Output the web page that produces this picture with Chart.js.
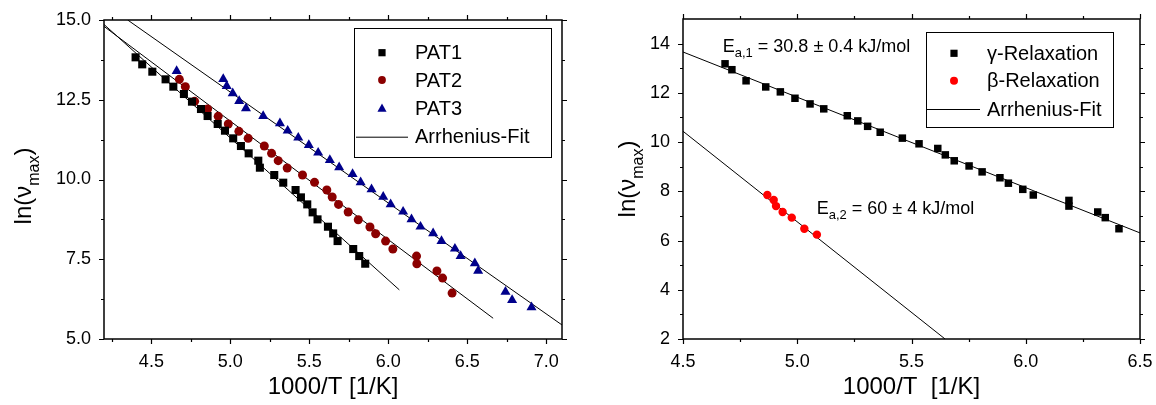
<!DOCTYPE html>
<html>
<head>
<meta charset="utf-8">
<script src="https://cdn.jsdelivr.net/npm/chart.js@4/dist/chart.umd.min.js"></script>
<style>
  html, body { margin: 0; padding: 0; background: #fff; overflow: hidden; }
  #wrap { position: relative; width: 1156px; height: 405px; }
  .pane { position: absolute; top: 0; width: 578px; height: 405px; }
</style>
</head>
<body>
<div id="wrap">
  <div class="pane" style="left:0"><canvas id="left" width="578" height="405"></canvas></div>
  <div class="pane" style="left:578px"><canvas id="right" width="578" height="405"></canvas></div>
</div>
<script>
// ---- Left panel: relaxation rate maps of three samples ----
const pat1X = [4.400, 4.442, 4.506, 4.590, 4.639, 4.706, 4.757, 4.814, 4.856, 4.920, 4.966, 5.018, 5.067, 5.116, 5.177, 5.187, 5.278, 5.335, 5.413, 5.447, 5.487, 5.521, 5.552, 5.618, 5.651, 5.679, 5.778, 5.816, 5.854];
const pat1Y = [13.83, 13.61, 13.38, 13.14, 12.91, 12.68, 12.44, 12.21, 11.99, 11.74, 11.53, 11.29, 11.05, 10.82, 10.59, 10.37, 10.14, 9.90, 9.67, 9.44, 9.22, 8.97, 8.75, 8.52, 8.31, 8.07, 7.82, 7.60, 7.36];

const pat2X = [4.677, 4.715, 4.774, 4.856, 4.923, 4.987, 5.054, 5.113, 5.215, 5.261, 5.303, 5.360, 5.457, 5.533, 5.611, 5.645, 5.685, 5.746, 5.810, 5.884, 5.920, 5.983, 6.029, 6.179, 6.181, 6.308, 6.344, 6.404];
const pat2Y = [13.14, 12.91, 12.45, 12.21, 11.98, 11.74, 11.51, 11.29, 11.05, 10.82, 10.59, 10.36, 10.14, 9.91, 9.67, 9.45, 9.22, 8.98, 8.74, 8.51, 8.30, 8.07, 7.82, 7.60, 7.36, 7.13, 6.91, 6.44];

const pat3X = [4.660, 4.955, 4.977, 5.015, 5.056, 5.099, 5.208, 5.314, 5.363, 5.430, 5.497, 5.556, 5.630, 5.689, 5.774, 5.825, 5.894, 5.968, 6.015, 6.094, 6.147, 6.204, 6.284, 6.337, 6.422, 6.458, 6.548, 6.569, 6.742, 6.784, 6.907];
const pat3Y = [13.40, 13.15, 12.93, 12.70, 12.46, 12.23, 11.99, 11.76, 11.53, 11.31, 11.08, 10.84, 10.61, 10.38, 10.17, 9.91, 9.69, 9.46, 9.22, 8.99, 8.75, 8.52, 8.31, 8.07, 7.83, 7.60, 7.37, 7.14, 6.48, 6.22, 5.99];

// Arrhenius fit lines, end points [1000/T, ln(nu)]
const pat1FitX = [4.20, 6.07];
const pat1FitY = [14.86, 6.54];
const pat2FitX = [4.20, 6.664];
const pat2FitY = [14.80, 5.65];
const pat3FitX = [4.35, 7.10];
const pat3FitY = [15.00, 5.44];

const leftXTicks = [4.5, 5.0, 5.5, 6.0, 6.5, 7.0];
const leftXMinor = [4.25, 4.75, 5.25, 5.75, 6.25, 6.75];
const leftYTicks = [5.0, 7.5, 10.0, 12.5, 15.0];
const leftYMinor = [6.25, 8.75, 11.25, 13.75];

// ---- Right panel: gamma and beta relaxation ----
const gammaX = [4.684, 4.714, 4.776, 4.862, 4.926, 4.990, 5.056, 5.116, 5.219, 5.265, 5.308, 5.363, 5.460, 5.533, 5.615, 5.648, 5.687, 5.752, 5.809, 5.887, 5.924, 5.987, 6.033, 6.189, 6.189, 6.315, 6.348, 6.408];
const gammaY = [13.18, 12.94, 12.49, 12.24, 12.04, 11.78, 11.55, 11.35, 11.07, 10.86, 10.64, 10.40, 10.16, 9.93, 9.74, 9.48, 9.24, 9.03, 8.79, 8.55, 8.33, 8.08, 7.85, 7.63, 7.40, 7.16, 6.93, 6.48];

const betaX = [4.869, 4.897, 4.907, 4.936, 4.976, 5.031, 5.086];
const betaY = [7.85, 7.65, 7.40, 7.16, 6.93, 6.48, 6.24];

const gammaFitX = [4.50, 6.50];
const gammaFitY = [13.66, 6.31];
const betaFitX = [4.50, 5.647];
const betaFitY = [10.44, 2.00];

const rightXTicks = [4.5, 5.0, 5.5, 6.0, 6.5];
const rightXMinor = [4.75, 5.25, 5.75, 6.25];
const rightYTicks = [2, 4, 6, 8, 10, 12, 14];
const rightYMinor = [3, 5, 7, 9, 11, 13];

const FONT = '"Liberation Sans", Arial, Helvetica, sans-serif';
const pts = (xs, ys) => xs.map((x, i) => ({ x, y: ys[i] }));

function markerDataset(label, xs, ys, style, radius, color) {
  return {
    label, data: pts(xs, ys), showLine: false,
    pointStyle: style, pointRadius: radius, pointBorderWidth: 0,
    pointBackgroundColor: color, pointBorderColor: color
  };
}
function fitDataset(xs, ys) {
  return {
    label: 'Arrhenius-Fit', data: pts(xs, ys), showLine: true,
    borderColor: '#000', borderWidth: 1, pointRadius: 0, fill: false
  };
}

// draws one legend marker
function drawMarker(ctx, style, x, y, r, color) {
  ctx.save();
  ctx.fillStyle = color;
  ctx.beginPath();
  if (style === 'rect') {
    ctx.rect(x - r, y - r, 2 * r, 2 * r);
  } else if (style === 'circle') {
    ctx.arc(x, y, r, 0, Math.PI * 2);
  } else if (style === 'triangle') {
    ctx.moveTo(x, y - r);
    ctx.lineTo(x + r * 0.95, y + r * 0.7);
    ctx.lineTo(x - r * 0.95, y + r * 0.7);
    ctx.closePath();
  }
  ctx.fill();
  ctx.restore();
}

// text with a subscript part: [main, sub, rest]
function drawSubText(ctx, parts, x, y, size, subSize, subDrop, align) {
  ctx.save();
  ctx.textBaseline = 'alphabetic';
  ctx.textAlign = 'left';
  const mainFont = size + 'px ' + FONT;
  const subFont = subSize + 'px ' + FONT;
  ctx.font = mainFont; const w0 = ctx.measureText(parts[0]).width;
  ctx.font = subFont; const w1 = ctx.measureText(parts[1]).width;
  ctx.font = mainFont; const w2 = ctx.measureText(parts[2]).width;
  let sx = x;
  if (align === 'center') sx = x - (w0 + w1 + w2) / 2;
  ctx.font = mainFont; ctx.fillText(parts[0], sx, y);
  ctx.font = subFont; ctx.fillText(parts[1], sx + w0, y + subDrop);
  ctx.font = mainFont; ctx.fillText(parts[2], sx + w0 + w1, y);
  ctx.restore();
}

// frame, mirrored outward ticks, axis titles, legend box and annotations
const framePlugin = {
  id: 'frame',
  afterDraw(chart, args, o) {
    const ctx = chart.ctx;
    const a = chart.chartArea;
    const sx = chart.scales.x, sy = chart.scales.y;
    ctx.save();
    ctx.strokeStyle = '#000';
    ctx.lineWidth = 1.5;
    ctx.strokeRect(a.left, a.top, a.right - a.left, a.bottom - a.top);
    ctx.lineWidth = 1.2;
    ctx.beginPath();
    const tickX = (vals, len) => vals.forEach(v => {
      const p = Math.round(sx.getPixelForValue(v)) + 0.5;
      ctx.moveTo(p, a.bottom); ctx.lineTo(p, a.bottom + len);
      ctx.moveTo(p, a.top); ctx.lineTo(p, a.top - len);
    });
    const tickY = (vals, len) => vals.forEach(v => {
      const p = Math.round(sy.getPixelForValue(v)) + 0.5;
      ctx.moveTo(a.left, p); ctx.lineTo(a.left - len, p);
      ctx.moveTo(a.right, p); ctx.lineTo(a.right + len, p);
    });
    tickX(o.xMajor, 5); tickX(o.xMinor, 3);
    tickY(o.yMajor, 5); tickY(o.yMinor, 3);
    ctx.stroke();

    // axis titles
    ctx.fillStyle = '#000';
    ctx.font = '24px ' + FONT;
    ctx.textAlign = 'center';
    ctx.textBaseline = 'alphabetic';
    ctx.fillText(o.xTitle, (a.left + a.right) / 2, o.xTitleY);
    ctx.save();
    ctx.translate(o.yTitleX, o.yTitleCY);
    ctx.rotate(-Math.PI / 2);
    drawSubText(ctx, ['ln(\u03BD', 'max', ')'], 0, 0, 24, 16, 8, 'center');
    ctx.restore();

    // legend
    const L = o.legend;
    ctx.lineWidth = 1;
    ctx.strokeStyle = '#000';
    ctx.strokeRect(L.x0 + 0.5, L.y0 + 0.5, L.x1 - L.x0, L.y1 - L.y0);
    ctx.font = '20px ' + FONT;
    ctx.textAlign = 'left';
    ctx.textBaseline = 'middle';
    L.items.forEach((it, i) => {
      const y = L.rowY[i];
      if (it.style === 'line') {
        ctx.beginPath();
        ctx.moveTo(L.lineX0, y + 0.5); ctx.lineTo(L.lineX1, y + 0.5);
        ctx.stroke();
      } else {
        drawMarker(ctx, it.style, L.markX, y, it.r, it.color);
      }
      ctx.fillStyle = '#000';
      ctx.fillText(it.text, L.textX, y + 1);
    });

    // activation energy notes, placed in data coordinates
    (o.notes || []).forEach(n => {
      ctx.fillStyle = '#000';
      drawSubText(ctx, n.parts, sx.getPixelForValue(n.x), sy.getPixelForValue(n.y), 18, 13, 5, 'left');
    });
    ctx.restore();
  }
};

function makeChart(id, c) {
  return new Chart(document.getElementById(id), {
    type: 'scatter',
    data: { datasets: c.datasets },
    options: {
      responsive: false,
      animation: false,
      events: [],
      layout: { padding: { left: 0, right: c.padRight, top: c.padTop, bottom: 0 } },
      plugins: { legend: { display: false }, tooltip: { enabled: false }, frame: c.frame },
      scales: {
        x: {
          type: 'linear', min: c.xMin, max: c.xMax,
          grid: { display: false, drawTicks: false },
          border: { display: false },
          ticks: { color: '#000', font: { family: FONT, size: 18 }, padding: 12,
                   callback: v => v.toFixed(1) },
          afterBuildTicks: s => { s.ticks = c.frame.xMajor.map(v => ({ value: v })); },
          afterFit: s => { s.height = c.xHeight; s.paddingLeft = 0; s.paddingRight = 0; }
        },
        y: {
          type: 'linear', min: c.yMin, max: c.yMax,
          grid: { display: false, drawTicks: false },
          border: { display: false },
          ticks: { color: '#000', font: { family: FONT, size: 18 }, padding: 13,
                   callback: c.yFormat },
          afterBuildTicks: s => { s.ticks = c.frame.yMajor.map(v => ({ value: v })); },
          afterFit: s => { s.width = c.yWidth; s.paddingTop = 0; s.paddingBottom = 0; }
        }
      }
    },
    plugins: [framePlugin]
  });
}

makeChart('left', {
  xMin: 4.2, xMax: 7.1, yMin: 5, yMax: 15,
  yFormat: v => v.toFixed(1),
  padTop: 20, padRight: 16, yWidth: 104, xHeight: 66,
  datasets: [
    markerDataset('PAT1', pat1X, pat1Y, 'rect', 5.7, '#000000'),
    markerDataset('PAT2', pat2X, pat2Y, 'circle', 4.5, '#8B0000'),
    markerDataset('PAT3', pat3X, pat3Y, 'triangle', 5.8, '#00008B'),
    fitDataset(pat1FitX, pat1FitY),
    fitDataset(pat2FitX, pat2FitY),
    fitDataset(pat3FitX, pat3FitY)
  ],
  frame: {
    xMajor: leftXTicks, xMinor: leftXMinor, yMajor: leftYTicks, yMinor: leftYMinor,
    xTitle: '1000/T [1/K]', xTitleY: 394, yTitleX: 31, yTitleCY: 186,
    legend: {
      x0: 354, y0: 28, x1: 551, y1: 157,
      markX: 382, textX: 415, lineX0: 356, lineX1: 408,
      rowY: [52.7, 80, 108.3, 136.7],
      items: [
        { style: 'rect', r: 3.6, color: '#000000', text: 'PAT1' },
        { style: 'circle', r: 3.9, color: '#8B0000', text: 'PAT2' },
        { style: 'triangle', r: 4.8, color: '#00008B', text: 'PAT3' },
        { style: 'line', text: 'Arrhenius-Fit' }
      ]
    }
  }
});

makeChart('right', {
  xMin: 4.5, xMax: 6.5, yMin: 2, yMax: 15,
  yFormat: v => String(v),
  padTop: 19, padRight: 16, yWidth: 105, xHeight: 66,
  datasets: [
    markerDataset('\u03B3-Relaxation', gammaX, gammaY, 'rect', 5.3, '#000000'),
    markerDataset('\u03B2-Relaxation', betaX, betaY, 'circle', 4.2, '#FF0000'),
    fitDataset(gammaFitX, gammaFitY),
    fitDataset(betaFitX, betaFitY)
  ],
  frame: {
    xMajor: rightXTicks, xMinor: rightXMinor, yMajor: rightYTicks, yMinor: rightYMinor,
    xTitle: '1000/T  [1/K]', xTitleY: 394, yTitleX: 57, yTitleCY: 179,
    legend: {
      x0: 348, y0: 32, x1: 535, y1: 127,
      markX: 376, textX: 409, lineX0: 349, lineX1: 402,
      rowY: [53.3, 80.7, 109],
      items: [
        { style: 'rect', r: 3.6, color: '#000000', text: '\u03B3-Relaxation' },
        { style: 'circle', r: 4.0, color: '#FF0000', text: '\u03B2-Relaxation' },
        { style: 'line', text: 'Arrhenius-Fit' }
      ]
    },
    notes: [
      { x: 4.674, y: 13.66, parts: ['E', 'a,1', ' = 30.8 \u00B1 0.4 kJ/mol'] },
      { x: 5.085, y: 7.06, parts: ['E', 'a,2', ' = 60 \u00B1 4 kJ/mol'] }
    ]
  }
});
</script>
</body>
</html>
